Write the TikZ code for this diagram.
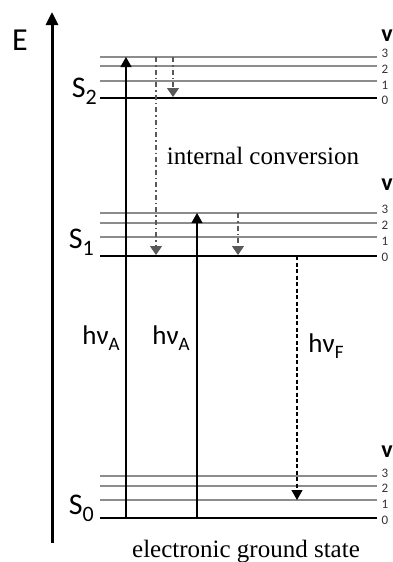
\documentclass[tikz,border=0pt]{standalone}
\usepackage{fontspec}
\setmainfont{Liberation Serif}
\newfontfamily\lblfont{Carlito}
\usepackage{graphicx}
\usetikzlibrary{arrows.meta}

\newcommand{\statename}[1]{S\raisebox{-7pt}{\fontsize{22}{22}\selectfont #1}}
\newcommand{\hnu}[1]{hν\raisebox{-6pt}{\fontsize{19}{19}\selectfont #1}}

\tikzset{
  vib/.style={draw=black!45, line width=1.3pt},
  ground/.style={draw=black, line width=2.3pt},
  absorb/.style={line width=1.3pt, -{Triangle[width=11pt,length=10pt]}},
  relax/.style={black!65, line width=1.2pt, dash pattern=on 5pt off 3pt on 1.5pt off 3pt,
                -{Triangle[width=12pt,length=9pt]}},
  emit/.style={line width=1.2pt, dash pattern=on 4pt off 2.5pt, -{Triangle[width=11pt,length=10pt]}},
  statelbl/.style={font=\lblfont\fontsize{30}{30}\selectfont, inner sep=0pt, anchor=base east},
  vhead/.style={font=\lblfont\bfseries\fontsize{24}{24}\selectfont, inner sep=0pt},
  vlbl/.style={font=\lblfont\fontsize{13}{13}\selectfont, text=black!80, inner sep=0pt},
  photon/.style={font=\lblfont\fontsize{27}{27}\selectfont, inner sep=0pt, anchor=base},
  caption/.style={font=\fontsize{25}{25}\selectfont, inner sep=0pt},
}

\begin{document}
\begin{tikzpicture}[x=1pt, y=-1pt]
\useasboundingbox (0,0) rectangle (393,562);

% --- energy axis ---
\coordinate (axisbot) at (52,543);
\coordinate (axistop) at (52,12);
\draw[line width=3pt, -{Triangle[width=12pt,length=13pt]}] (axisbot) -- (axistop);
\node[font=\lblfont\fontsize{32}{32}\selectfont, inner sep=0pt] (energy) at (20,40) {E};

% --- S2 levels ---
\draw[vib] (100,57) -- (377,57);
\draw[vib] (100,66) -- (377,66);
\draw[vib] (100,81) -- (377,81);
\draw[ground] (100,98) -- (377,98);
\node[statelbl] (s2) at (97,97) {\statename{2}};
\node[vhead] (s2v) at (387,36) {v};
\foreach \n/\y in {3/53, 2/69, 1/85, 0/100}
  \node[vlbl] (s2v\n) at (385,\y) {\n};

% --- S1 levels ---
\draw[vib] (100,213) -- (377,213);
\draw[vib] (100,223) -- (377,223);
\draw[vib] (100,237) -- (377,237);
\draw[ground] (100,256) -- (377,256);
\node[statelbl] (s1) at (94,248) {\statename{1}};
\node[vhead] (s1v) at (387,185) {v};
\foreach \n/\y in {3/209, 2/225, 1/241, 0/257}
  \node[vlbl] (s1v\n) at (385,\y) {\n};

% --- S0 levels ---
\draw[vib] (100,476) -- (377,476);
\draw[vib] (100,486) -- (377,486);
\draw[vib] (100,500) -- (377,500);
\draw[ground] (100,518) -- (377,518);
\node[statelbl] (s0) at (94,514) {\statename{0}};
\node[vhead] (s0v) at (387,452) {v};
\foreach \n/\y in {3/473, 2/488, 1/504, 0/520}
  \node[vlbl] (s0v\n) at (385,\y) {\n};

% --- absorption ---
\coordinate (absAbot) at (126,518);
\coordinate (absAtop) at (126,57);
\coordinate (absBbot) at (197,518);
\coordinate (absBtop) at (197,213);
\draw[absorb] (absAbot) -- (absAtop);
\draw[absorb] (absBbot) -- (absBtop);
\node[photon] (hnuA1) at (101,344) {\hnu{A}};
\node[photon] (hnuA2) at (171,344) {\hnu{A}};

% --- relaxation ---
\coordinate (icTop) at (156,57);
\coordinate (icBot) at (156,255);
\coordinate (vr2Top) at (173,57);
\coordinate (vr2Bot) at (173,97);
\coordinate (vr1Top) at (238,213);
\coordinate (vr1Bot) at (238,255);
\draw[relax] (icTop) -- (icBot);
\draw[relax] (vr2Top) -- (vr2Bot);
\draw[relax] (vr1Top) -- (vr1Bot);
\node[caption] (ic) at (263,156) {internal conversion};

% --- fluorescence ---
\coordinate (flTop) at (297,256);
\coordinate (flBot) at (297,500);
\draw[emit] (flTop) -- (flBot);
\node[photon] (hnuF) at (326,352) {\hnu{F}};

\node[caption, anchor=base] (gs) at (246,557) {electronic ground state};

\end{tikzpicture}
\end{document}
